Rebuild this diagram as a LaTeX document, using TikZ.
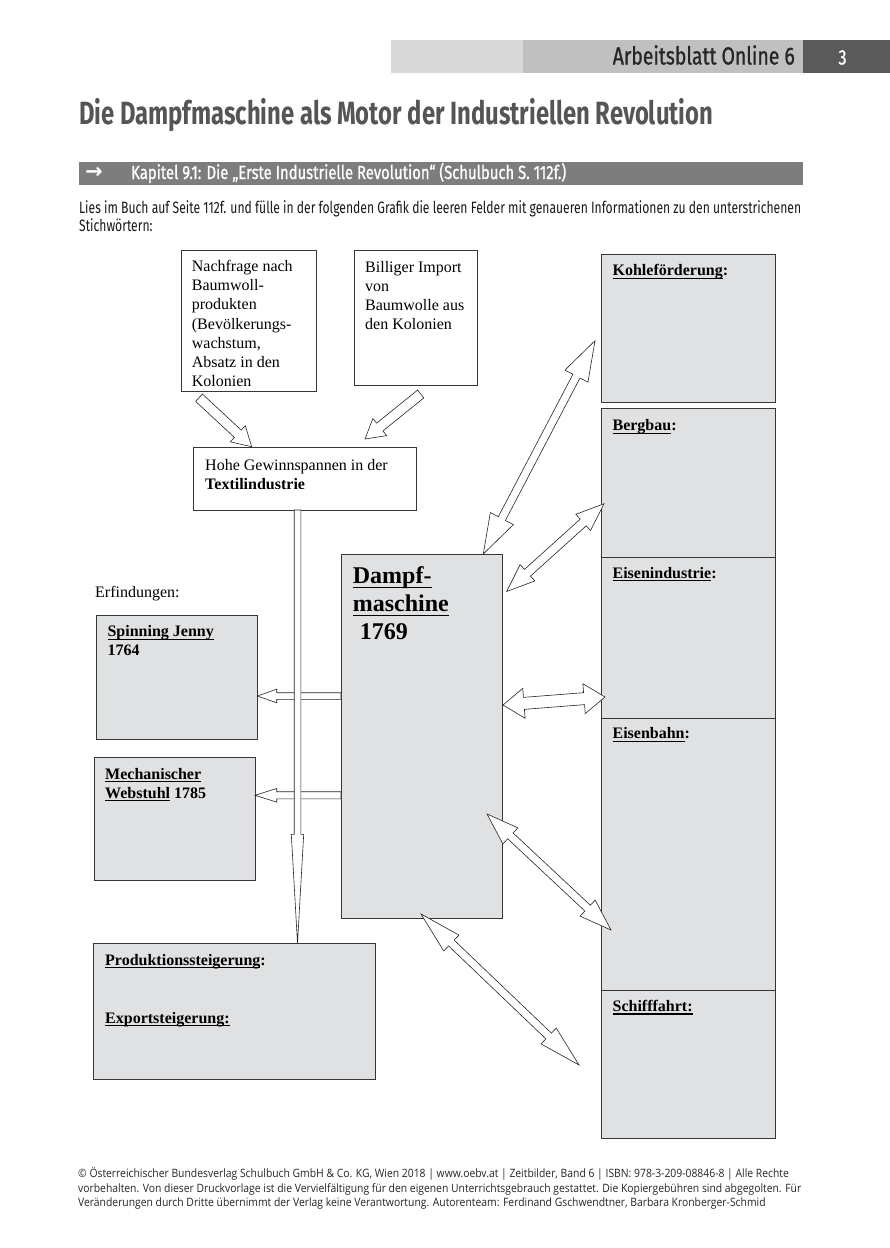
\documentclass[tikz,border=0pt]{standalone}
\usepackage{fontspec}
\usepackage{graphicx}
\setmainfont{Liberation Serif}
\newfontfamily\condfont[FakeStretch=0.74]{Fira Sans}
\newfontfamily\medfont[FakeStretch=0.78, FakeBold=0.9]{Fira Sans}
\newfontfamily\footfont[FakeStretch=0.9]{Open Sans}
\newfontfamily\symfont{DejaVu Sans}
\usetikzlibrary{calc,positioning}

\definecolor{boxgray}{RGB}{224,225,227}
\definecolor{bordergray}{RGB}{55,55,55}
\definecolor{barlight}{RGB}{217,217,217}
\definecolor{barmid}{RGB}{192,192,192}
\definecolor{bardark}{RGB}{90,90,90}
\definecolor{kapitelgray}{RGB}{125,125,125}
\definecolor{titlegray}{RGB}{85,85,85}

\newlength{\strichw}
\newcommand{\strich}[1]{\settowidth{\strichw}{#1}\rlap{\rule[-0.19em]{\strichw}{0.065em}}#1}
\newcommand{\fitto}[2]{\resizebox{#1}{!}{#2}}

% hollow arrows: tail/tip, tip, half shaft, half head, head length
\newcommand{\onehead}[5]{%
	\draw[hollow]
		($(#1)!#3!90:(#2)$) --
		($($(#2)!#5!(#1)$)!#3!90:(#2)$) --
		($($(#2)!#5!(#1)$)!#4!90:(#2)$) --
		(#2) --
		($($(#2)!#5!(#1)$)!#4!-90:(#2)$) --
		($($(#2)!#5!(#1)$)!#3!-90:(#2)$) --
		($(#1)!#3!-90:(#2)$) -- cycle;}
\newcommand{\twohead}[5]{%
	\draw[hollow]
		(#1) --
		($($(#1)!#5!(#2)$)!#4!90:(#2)$) --
		($($(#1)!#5!(#2)$)!#3!90:(#2)$) --
		($($(#2)!#5!(#1)$)!#3!90:(#2)$) --
		($($(#2)!#5!(#1)$)!#4!90:(#2)$) --
		(#2) --
		($($(#2)!#5!(#1)$)!#4!-90:(#2)$) --
		($($(#2)!#5!(#1)$)!#3!-90:(#2)$) --
		($($(#1)!#5!(#2)$)!#3!-90:(#2)$) --
		($($(#1)!#5!(#2)$)!#4!-90:(#2)$) -- cycle;}

\begin{document}
\begin{tikzpicture}[x=1pt,y=-1pt]
	\tikzset{bar/.style={inner sep=0pt, outer sep=0pt, anchor=north west}}
	\tikzset{box/.style={draw=bordergray, line width=.9pt, inner sep=0pt, outer sep=0pt, anchor=north west}}
	\tikzset{greybox/.style={box, fill=boxgray}}
	\tikzset{boxtext/.style={inner sep=0pt, align=left, font=\fontsize{16}{19.2}\selectfont}}
	\tikzset{boxlabel/.style={boxtext, font=\fontsize{16}{19.2}\selectfont\bfseries}}
	\tikzset{hollow/.style={draw=black!85, fill=white, line width=.6pt, line join=miter}}

	\useasboundingbox (0,0) rectangle (890,1248);
	\fill[white] (0,0) rectangle (890,1248);

	% header
	\node[bar, fill=barlight, minimum width=132pt, minimum height=33pt] (barleft) at (391,40.3) {};
	\node[bar, fill=barmid, minimum width=280pt, minimum height=33pt] (barmid) at (523,40.3) {};
	\node[bar, fill=bardark, minimum width=87pt, minimum height=33pt] (bardark) at (803,40.3) {};
	\node[anchor=base east, inner sep=0pt, text=black!85] (blatt) at (795,64.5)
		{\fitto{182pt}{\medfont\fontsize{19}{22}\selectfont Arbeitsblatt Online 6}};
	\node[anchor=base, inner sep=0pt, text=white] (seite) at (842.5,64.5)
		{\medfont\fontsize{21}{22}\selectfont 3};
	\node[anchor=base west, inner sep=0pt, text=titlegray] (title) at (79,124)
		{\fitto{634pt}{\condfont\bfseries\fontsize{24}{28}\selectfont Die Dampfmaschine als Motor der Industriellen Revolution}};
	\node[bar, fill=kapitelgray, minimum width=724pt, minimum height=23.5pt] (kapitelbar) at (79,161.5) {};
	\node[inner sep=0pt, text=white] (kapitelpfeil) at (94,173.3)
		{\symfont\bfseries\fontsize{21}{21}\selectfont →};
	\node[anchor=base west, inner sep=0pt, text=white] (kapitel) at (131,179)
		{\fitto{435pt}{\medfont\fontsize{15}{17}\selectfont Kapitel 9.1: Die „Erste Industrielle Revolution“ (Schulbuch S. 112f.)}};
	\node[anchor=west, inner sep=0pt, text=black!90] (auftrag) at (79,219)
		{\fitto{722pt}{\condfont\fontsize{13}{14.3}\selectfont\begin{tabular}{@{}l@{}}
		Lies im Buch auf Seite 112f. und fülle in der folgenden Grafik die leeren Felder mit genaueren Informationen zu den unterstrichenen\\
		Stichwörtern:\end{tabular}}};

	% boxes
	\node[box, minimum width=135.7pt, minimum height=141.7pt] (nachfrage) at (181,250) {};
	\node[boxtext, below right=10pt and 10.7pt of nachfrage.north west] (nachfragetext)
		{Nachfrage nach\\Baumwoll-\\produkten\\(Bevölkerungs-\\wachstum,\\Absatz in den\\Kolonien};
	\node[box, minimum width=123pt, minimum height=135.7pt] (billiger) at (354.3,250) {};
	\node[boxtext, below right=11pt and 10.7pt of billiger.north west] (billigertext)
		{Billiger Import\\von\\Baumwolle aus\\den Kolonien};
	\node[box, minimum width=223.4pt, minimum height=62.3pt] (hohe) at (193.3,447.7) {};
	\node[boxtext, below right=11.5pt and 11.7pt of hohe.north west] (hohetext)
		{Hohe Gewinnspannen in der\\\textbf{Textilindustrie}};

	\node[greybox, minimum width=161pt, minimum height=364pt] (dampf) at (341,554) {};
	\node[boxlabel, font=\fontsize{24}{28}\selectfont\bfseries, below right=12.5pt and 11.7pt of dampf.north west] (dampftext)
		{\strich{Dampf-}\\\strich{maschine}\\\hspace*{7pt}1769};

	\node[boxtext, anchor=north west] (erfindungen) at (95,586) {Erfindungen:};
	\node[greybox, minimum width=160.6pt, minimum height=123.3pt] (jenny) at (96.7,615.7) {};
	\node[boxlabel, below right=9.5pt and 10.7pt of jenny.north west] (jennytext)
		{\strich{Spinning Jenny}\\1764};
	\node[greybox, minimum width=161pt, minimum height=123.4pt] (webstuhl) at (94,757.3) {};
	\node[boxlabel, below right=10.4pt and 11pt of webstuhl.north west] (webstuhltext)
		{\strich{Mechanischer}\\\strich{Webstuhl} 1785};
	\node[greybox, minimum width=281.7pt, minimum height=135.7pt] (prod) at (93.3,943.3) {};
	\node[boxlabel, below right=10.7pt and 11.7pt of prod.north west] (prodtext)
		{\strich{Produktionssteigerung}:\\[38.5pt]\strich{Exportsteigerung:}};

	\node[greybox, minimum width=173.3pt, minimum height=148pt] (kohle) at (601.7,254.3) {};
	\node[greybox, minimum width=173.3pt, minimum height=148.7pt, below=6pt of kohle] (bergbau) {};
	\node[greybox, minimum width=173.3pt, minimum height=161pt, below=0pt of bergbau] (eisenind) {};
	\node[greybox, minimum width=173.3pt, minimum height=272pt, below=0pt of eisenind] (eisenbahn) {};
	\node[greybox, minimum width=173.3pt, minimum height=148pt, below=0pt of eisenbahn] (schiff) {};
	\node[boxlabel, below right=10pt and 10.7pt of kohle.north west] (kohletext) {\strich{Kohleförderung}:};
	\node[boxlabel, below right=11.2pt and 10.7pt of bergbau.north west] (bergbautext) {\strich{Bergbau}:};
	\node[boxlabel, below right=10pt and 10.7pt of eisenind.north west] (eisenindtext) {\strich{Eisenindustrie}:};
	\node[boxlabel, below right=9.5pt and 10.7pt of eisenbahn.north west] (eisenbahntext) {\strich{Eisenbahn}:};
	\node[boxlabel, below right=10pt and 10.7pt of schiff.north west] (schifftext) {\strich{Schifffahrt:}};

	% arrow ends
	\coordinate (nachfragetail) at ($(nachfrage.south west)+(18,6)$);
	\coordinate (nachfragetip) at ($(hohe.north west)+(58.4,-1)$);
	\coordinate (billigertail) at ($(billiger.south west)+(66.4,8.3)$);
	\coordinate (billigertip) at ($(hohe.north west)+(171.7,-8.7)$);
	\coordinate (textiltail) at ($(hohe.south)+(-7.5,0)$);
	\coordinate (textiltip) at (textiltail |- prod.north);
	\coordinate (jennytail) at ($(dampf.north west)+(0,142)$);
	\coordinate (jennytip) at (jenny.east |- jennytail);
	\coordinate (webstuhltail) at ($(dampf.north west)+(0,241.3)$);
	\coordinate (webstuhltip) at (webstuhl.east |- webstuhltail);
	\coordinate (kohleA) at ($(dampf.north west)+(142.3,0)$);
	\coordinate (kohleB) at ($(kohle.north west)+(-6.7,86.4)$);
	\coordinate (bergbauA) at ($(dampf.north east)+(4.7,37.5)$);
	\coordinate (bergbauB) at ($(bergbau.north west)+(2.3,95.4)$);
	\coordinate (eisenindA) at ($(dampf.north east)+(1,151)$);
	\coordinate (eisenindB) at ($(eisenind.north west)+(3.3,140)$);
	\coordinate (eisenbahnA) at ($(dampf.north east)+(-15,260)$);
	\coordinate (eisenbahnB) at ($(eisenbahn.north west)+(9.3,212)$);
	\coordinate (schiffA) at ($(dampf.south west)+(80,-4)$);
	\coordinate (schiffB) at ($(schiff.north west)+(-22.7,75)$);

	% arrows
	\onehead{nachfragetail}{nachfragetip}{5pt}{11pt}{19pt}
	\onehead{billigertail}{billigertip}{5pt}{11pt}{19pt}
	\onehead{jennytail}{jennytip}{3.3pt}{6.8pt}{19.4pt}
	\onehead{webstuhltail}{webstuhltip}{3.6pt}{6.8pt}{21.7pt}
	\onehead{textiltail}{textiltip}{3.3pt}{6.2pt}{109pt}
	\twohead{kohleA}{kohleB}{4pt}{13pt}{40pt}
	\twohead{bergbauA}{bergbauB}{4.5pt}{11pt}{28pt}
	\twohead{eisenindA}{eisenindB}{6pt}{15pt}{21pt}
	\twohead{eisenbahnA}{eisenbahnB}{4pt}{11pt}{32pt}
	\twohead{schiffA}{schiffB}{4pt}{11pt}{42pt}

	% footer
	\node[anchor=west, inner sep=0pt, text=black!85] (fusszeile) at (78,1189)
		{\fitto{723pt}{\footfont\fontsize{10}{13}\selectfont\begin{tabular}{@{}l@{}}
		© Österreichischer Bundesverlag Schulbuch GmbH \& Co. KG, Wien 2018 | www.oebv.at | Zeitbilder, Band 6 | ISBN: 978-3-209-08846-8 | Alle Rechte\\
		vorbehalten. Von dieser Druckvorlage ist die Vervielfältigung für den eigenen Unterrichtsgebrauch gestattet. Die Kopiergebühren sind abgegolten. Für\\
		Veränderungen durch Dritte übernimmt der Verlag keine Verantwortung. Autorenteam: Ferdinand Gschwendtner, Barbara Kronberger-Schmid\end{tabular}}};
\end{tikzpicture}
\end{document}
